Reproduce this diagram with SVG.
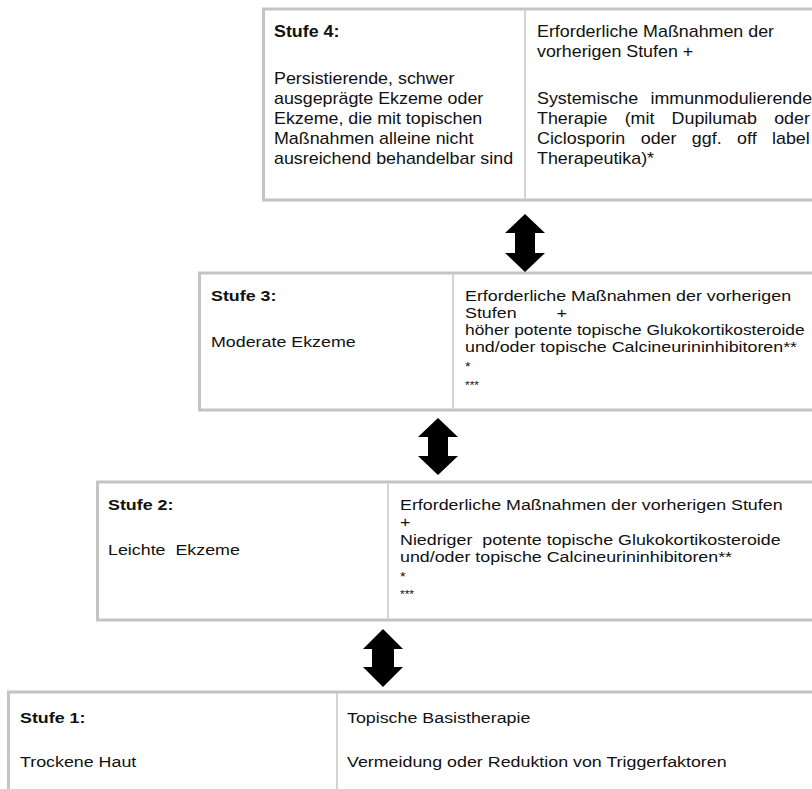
<svg xmlns="http://www.w3.org/2000/svg" width="812" height="789" viewBox="0 0 812 789">
<style>
.box{fill:#fff;stroke:#c4c4c4;stroke-width:3}
.div{stroke:#d4d4d4;stroke-width:2}
text{font-family:"Liberation Sans",Arial,sans-serif;font-size:15px;fill:#111}
.b{font-weight:bold}
.l{font-size:17px}
.s1{font-size:12px}
.s3{font-size:10px}
.arr{fill:#000}
</style>
<rect width="812" height="789" fill="#fff"/>
<g id="stufe4">
<rect class="box" x="263.5" y="9" width="560" height="191"/>
<line class="div" x1="525" y1="10" x2="525" y2="199"/>
<g transform="translate(274,0) scale(1.05,1)">
<text class="b l" x="0" y="37">Stufe 4:</text>
<text class="l" x="0" y="84">Persistierende, schwer</text>
<text class="l" x="0" y="104">ausgeprägte Ekzeme oder</text>
<text class="l" x="0" y="124">Ekzeme, die mit topischen</text>
<text class="l" x="0" y="144">Maßnahmen alleine nicht</text>
<text class="l" x="0" y="164">ausreichend behandelbar sind</text>
</g>
<g transform="translate(537,0) scale(1.05,1)">
<text class="l" x="0" y="37">Erforderliche Maßnahmen der</text>
<text class="l" x="0" y="57">vorherigen Stufen +</text>
<text class="l" x="0" y="104" word-spacing="7">Systemische immunmodulierende</text>
<text class="l" x="0" y="124" word-spacing="11.7">Therapie (mit Dupilumab oder</text>
<text class="l" x="0" y="144" word-spacing="10">Ciclosporin oder ggf. off label</text>
<text class="l" x="0" y="164">Therapeutika)*</text>
</g>
</g>
<g id="stufe3">
<rect class="box" x="199.5" y="273" width="620" height="137"/>
<line class="div" x1="453" y1="274" x2="453" y2="409"/>
<g transform="translate(211,0) scale(1.19,1)">
<text class="b" x="0" y="301">Stufe 3:</text>
<text x="0" y="347">Moderate Ekzeme</text>
</g>
<g transform="translate(465,0) scale(1.19,1)">
<text x="0" y="301">Erforderliche Maßnahmen der vorherigen</text>
<text x="0" y="318">Stufen</text>
<text x="77" y="318">+</text>
<text x="0" y="335" style="font-size:14.6px">höher potente topische Glukokortikosteroide</text>
<text x="0" y="352">und/oder topische Calcineurininhibitoren**</text>
<text class="s1" x="0" y="371">*</text>
<text class="s3" x="0" y="389">***</text>
</g>
</g>
<g id="stufe2">
<rect class="box" x="97.5" y="482" width="720" height="138"/>
<line class="div" x1="388" y1="483" x2="388" y2="619"/>
<g transform="translate(108,0) scale(1.19,1)">
<text class="b" x="0" y="510">Stufe 2:</text>
<text x="0" y="555" xml:space="preserve">Leichte  Ekzeme</text>
</g>
<g transform="translate(400,0) scale(1.19,1)">
<text x="0" y="510">Erforderliche Maßnahmen der vorherigen Stufen</text>
<text x="0" y="527">+</text>
<text x="0" y="545" xml:space="preserve">Niedriger  potente topische Glukokortikosteroide</text>
<text x="0" y="562">und/oder topische Calcineurininhibitoren**</text>
<text class="s1" x="0" y="581">*</text>
<text class="s3" x="0" y="598">***</text>
</g>
</g>
<g id="stufe1">
<rect class="box" x="8.5" y="692" width="810" height="110"/>
<line class="div" x1="337" y1="693" x2="337" y2="789"/>
<g transform="translate(20,0) scale(1.19,1)">
<text class="b" x="0" y="723">Stufe 1:</text>
<text x="0" y="767">Trockene Haut</text>
</g>
<g transform="translate(347,0) scale(1.19,1)">
<text x="0" y="723">Topische Basistherapie</text>
<text x="0" y="767">Vermeidung oder Reduktion von Triggerfaktoren</text>
</g>
</g>
<g id="connectors">
<path class="arr" d="M525,214 L545,233 L535,233 L535,253 L545,253 L525,272 L505,253 L515,253 L515,233 L505,233 Z"/>
<path class="arr" d="M438,418 L458,437 L448,437 L448,456 L458,456 L438,475 L418,456 L428,456 L428,437 L418,437 Z"/>
<path class="arr" d="M383,629 L403,649 L394,649 L394,667 L403,667 L383,687 L363,667 L372,667 L372,649 L363,649 Z"/>
</g>
</svg>
